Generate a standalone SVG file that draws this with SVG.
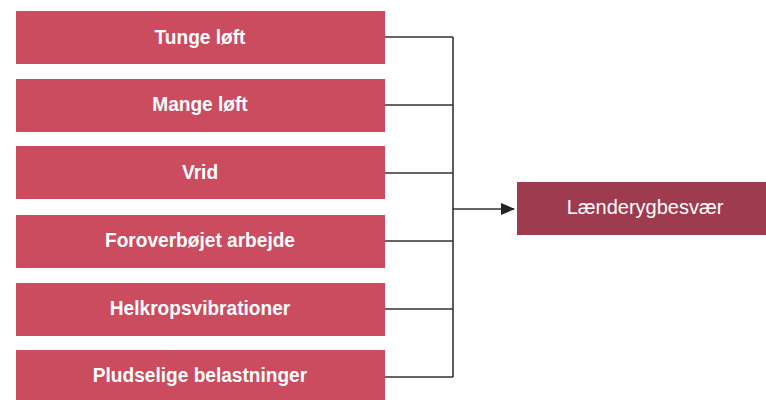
<svg xmlns="http://www.w3.org/2000/svg" width="766" height="400" viewBox="0 0 766 400">
<defs>
<style>
.src rect{fill:#cb4b5f}
.src text{font-family:"Liberation Sans",Arial,sans-serif;font-weight:bold;font-size:21px;fill:#fff;text-anchor:middle}
.tgt rect{fill:#9f3b4f}
.tgt text{font-family:"Liberation Sans",Arial,sans-serif;font-size:20px;fill:#fff;text-anchor:middle}
.conn path{fill:none;stroke:#333;stroke-width:1.6}
</style>
<marker id="ah" markerWidth="14" markerHeight="12" refX="13" refY="6" orient="auto" markerUnits="userSpaceOnUse">
<path d="M0,0 L14,6 L0,12 Z" fill="#222"/>
</marker>
</defs>
<rect width="766" height="400" fill="#fff"/>
<g id="n1" class="src"><rect x="16" y="11" width="369" height="53"/><text transform="translate(200,44) scale(0.91,1)">Tunge løft</text></g>
<g id="n2" class="src"><rect x="16" y="79" width="369" height="53"/><text transform="translate(200,111) scale(0.91,1)">Mange løft</text></g>
<g id="n3" class="src"><rect x="16" y="146" width="369" height="53"/><text transform="translate(200,179) scale(0.91,1)">Vrid</text></g>
<g id="n4" class="src"><rect x="16" y="215" width="369" height="53"/><text transform="translate(200,247) scale(0.91,1)">Foroverbøjet arbejde</text></g>
<g id="n5" class="src"><rect x="16" y="283" width="369" height="53"/><text transform="translate(200,315) scale(0.91,1)">Helkropsvibrationer</text></g>
<g id="n6" class="src"><rect x="16" y="350" width="369" height="55"/><text transform="translate(200,382) scale(0.91,1)">Pludselige belastninger</text></g>
<g id="t1" class="tgt"><rect x="517" y="182" width="249" height="53"/><text x="645" y="214">Lænderygbesvær</text></g>
<g id="connectors" class="conn">
<path d="M385,37 H453 M385,105 H453 M385,173 H453 M385,241 H453 M385,309 H453 M385,377 H453 M453,37 V377"/>
<path d="M453,209 H514" marker-end="url(#ah)"/>
</g>
</svg>
